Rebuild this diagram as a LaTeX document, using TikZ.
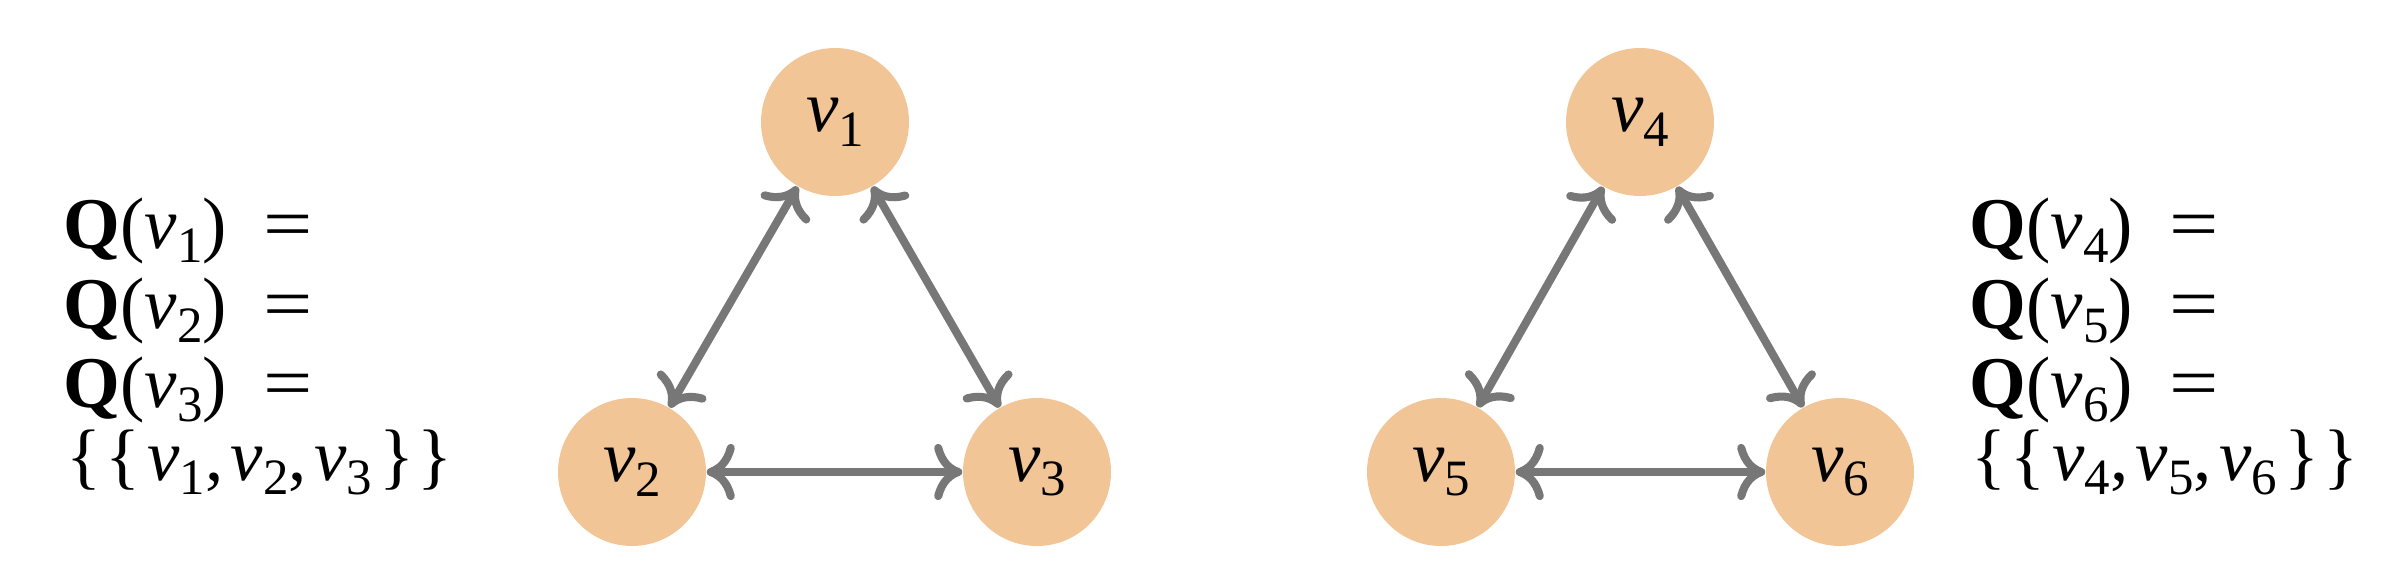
\documentclass[tikz,border=0pt]{standalone}
\usepackage{graphicx}
\usepackage{fontspec}
\setmainfont{Liberation Serif}
\usetikzlibrary{arrows.meta}
\definecolor{vfill}{RGB}{242,197,150}
\definecolor{egray}{RGB}{119,119,119}
\newcommand{\vn}[1]{\textit{v}\raisebox{-0.2em}{\fontsize{14.5}{16}\selectfont #1}}
\newcommand{\eqs}{\scalebox{1.2}[1]{=}}

\begin{document}
\begin{tikzpicture}[every node/.style={font=\fontsize{20.74}{25}\selectfont},
  vert/.style={circle,fill=vfill,minimum size=1.48cm,inner sep=0pt},
  qrow/.style={anchor=base west,inner sep=0pt},
  >={Computer Modern Rightarrow[length=8pt,width=16pt]},
  edge/.style={<->,draw=egray,line width=2.3pt}]
\useasboundingbox (0,0) rectangle (23.83,5.76);
\node[vert] (v1) at (8.35,4.54) {\vn{1}};
\node[vert] (v2) at (6.32,1.04) {\vn{2}};
\node[vert] (v3) at (10.37,1.04) {\vn{3}};
\node[vert] (v4) at (16.40,4.54) {\vn{4}};
\node[vert] (v5) at (14.41,1.04) {\vn{5}};
\node[vert] (v6) at (18.40,1.04) {\vn{6}};
\draw[edge] (v1) -- (v2);
\draw[edge] (v1) -- (v3);
\draw[edge] (v2) -- (v3);
\draw[edge] (v4) -- (v5);
\draw[edge] (v4) -- (v6);
\draw[edge] (v5) -- (v6);
\node[qrow] (q1) at (0.63,3.28) {\textbf{Q}(\vn{1})\hspace{0.5em}\eqs};
\node[qrow] (q2) at (0.63,2.48) {\textbf{Q}(\vn{2})\hspace{0.5em}\eqs};
\node[qrow] (q3) at (0.63,1.69) {\textbf{Q}(\vn{3})\hspace{0.5em}\eqs};
\node[qrow] (s1) at (0.66,0.96) {\{\hspace{0.05em}\{\hspace{0.1em}\vn{1},\hspace{0.1em}\vn{2},\hspace{0.1em}\vn{3}\hspace{0.1em}\}\hspace{0.05em}\}};
\node[qrow] (q4) at (19.69,3.28) {\textbf{Q}(\vn{4})\hspace{0.5em}\eqs};
\node[qrow] (q5) at (19.69,2.48) {\textbf{Q}(\vn{5})\hspace{0.5em}\eqs};
\node[qrow] (q6) at (19.69,1.69) {\textbf{Q}(\vn{6})\hspace{0.5em}\eqs};
\node[qrow] (s2) at (19.71,0.96) {\{\hspace{0.05em}\{\hspace{0.1em}\vn{4},\hspace{0.1em}\vn{5},\hspace{0.1em}\vn{6}\hspace{0.1em}\}\hspace{0.05em}\}};
\end{tikzpicture}
\end{document}
